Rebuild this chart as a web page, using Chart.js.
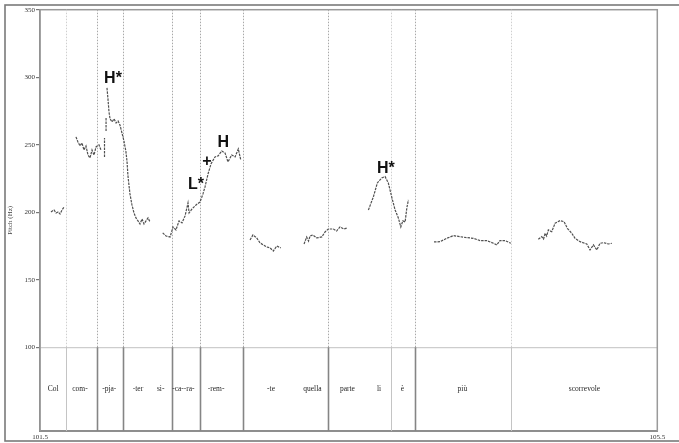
<!DOCTYPE html>
<html>
<head>
<meta charset="utf-8">
<script src="https://cdn.jsdelivr.net/npm/chart.js@4/dist/chart.umd.min.js"></script>
<style>
  html, body { margin: 0; padding: 0; background: #fff; }
  #wrap { position: relative; width: 679px; height: 443px; overflow: hidden; }
  canvas { position: absolute; left: 0; top: 0; }
</style>
</head>
<body>
<div id="wrap"><canvas id="c" width="679" height="443"></canvas></div>
<script>
// ---- data (time in s, F0 in Hz); null = break in the contour ----
const pitchTime = [
  101.571,101.591,101.604,101.617,101.630,101.643,101.656, null,
  101.733,101.746,101.759,101.772,101.785,101.798,101.811,101.824,101.837,101.850,101.863,101.882,101.895, null,
  101.918,101.918, null,
  101.928,101.928, null,
  101.934,101.941,101.947,101.954,101.967,101.980,101.993,102.006,102.018,102.031,102.044,102.057,102.064,102.070,102.077,102.083,102.096,102.109,102.122,102.135,102.148,102.161,102.174,102.187,102.200,102.213, null,
  102.295,102.317,102.343,102.362,102.381,102.401,102.420,102.440,102.459,102.466,102.485,102.511,102.537,102.556,102.569,102.589,102.608,102.634,102.654,102.678,102.699,102.718,102.742,102.764,102.785,102.801, null,
  102.861,102.880,102.904,102.926,102.969,102.991,103.012,103.034,103.060, null,
  103.211,103.228,103.240,103.250,103.267,103.293,103.326,103.347,103.368,103.401,103.422,103.444,103.470,103.492, null,
  103.628,103.660,103.686,103.714,103.736,103.757,103.779,103.801,103.822,103.838,103.851,103.866,103.877,103.887, null,
  104.053,104.092,104.136,104.179,104.222,104.265,104.308,104.352,104.395,104.438,104.460,104.481,104.514,104.551, null,
  104.729,104.751,104.763,104.773,104.783,104.794,104.816,104.838,104.870,104.896,104.917,104.946,104.967,105.000,105.043,105.064,105.086,105.108,105.129,105.151,105.183,105.205
];
const pitchHz = [
  200.2,201.7,199.5,200.2,198.7,201.7,203.9, null,
  255.8,252.1,249.1,251.3,246.1,249.1,242.4,240.2,246.1,242.4,248.4,249.9,246.1, null,
  241.0,255.0, null,
  260.2,269.9, null,
  292.1,283.2,274.3,269.1,266.9,269.1,266.1,267.6,264.7,258.7,252.8,244.7,237.3,226.9,219.5,213.6,205.4,199.5,195.8,193.6,191.3,195.0,191.3,193.6,195.8,192.8, null,
  184.7,182.4,181.7,189.1,186.9,193.6,192.1,197.3,206.9,199.5,202.4,205.4,207.6,213.6,218.7,228.4,235.8,241.0,241.7,245.4,243.9,237.3,242.4,241.0,246.9,238.7, null,
  179.5,183.2,181.0,177.3,174.3,173.6,171.3,175.0,173.6, null,
  176.5,181.7,178.7,182.4,183.2,181.0,181.7,185.4,187.6,187.6,186.1,189.1,187.6,188.4, null,
  201.7,211.3,221.7,225.4,226.4,221.7,211.3,201.7,195.8,189.1,193.6,192.8,203.2,209.1, null,
  178.0,178.2,180.7,182.7,181.9,181.2,180.7,179.0,179.0,177.0,175.8,179.0,179.0,177.0, null,
  180.0,181.9,180.2,184.4,182.4,186.9,185.6,191.9,193.8,193.0,188.1,184.4,180.7,178.2,176.5,172.1,175.8,172.1,177.0,177.5,176.5,177.0
];

// interval boundaries of the text tier (s) and whether they are word boundaries
const boundaryTimes = [101.667, 101.871, 102.040, 102.354, 102.540, 102.814, 103.363, 103.776, 103.931, 104.554];
const boundaryHeavy = [false, true, true, true, true, true, true, false, true, false];

// syllable / word labels of the tier and their time positions
const tierLabels = ['Col','com-','-pja-','-ter','si-','-ca-','-ra-','-rem-','-te','quella','parte','li','è','più','scorrevole'];
const tierTimes  = [101.586,101.759,101.949,102.135,102.282,102.394,102.466,102.641,102.997,103.265,103.492,103.697,103.848,104.237,105.028];

// ToBI tone labels
const toneLabels = ['H*','L*','+','H','H*'];
const toneTimes  = [101.973,102.511,102.582,102.688,103.741];
const toneHz     = [298.7,220.2,237.5,251.7,232.1];

// axis ticks
const yTickValues = [100,150,200,250,300,350];
const xTickValues = [101.5,105.5];
const yMin = 38, yMax = 350, xMin = 101.5, xMax = 105.5;
const tierTopHz = 100;

// build points for the library
const pts = [];
for (let i = 0; i < pitchTime.length; i++) {
  if (pitchTime[i] === null) {
    pts.push({x: pitchTime[i-1], y: null});
  } else {
    pts.push({x: pitchTime[i], y: pitchHz[i]});
  }
}

const decor = {
  id: 'decor',
  beforeDraw(chart) {
    const ctx = chart.ctx;
    ctx.save();
    ctx.fillStyle = '#fff';
    ctx.fillRect(0, 0, chart.width, chart.height);
    ctx.strokeStyle = '#7a7a7a';
    ctx.lineWidth = 1.6;
    ctx.strokeRect(5, 5, 700, 436);
    ctx.restore();
  },
  beforeDatasetsDraw(chart) {
    const ctx = chart.ctx, a = chart.chartArea;
    const xs = chart.scales.x, ys = chart.scales.y;
    const y100 = ys.getPixelForValue(tierTopHz);
    ctx.save();
    // plot frame
    ctx.strokeStyle = '#9a9a9a';
    ctx.lineWidth = 1.5;
    ctx.strokeRect(a.left, a.top, a.right - a.left, a.bottom - a.top);
    // boundaries
    boundaryTimes.forEach((t, i) => {
      const x = Math.round(xs.getPixelForValue(t)) + 0.5;
      ctx.setLineDash([1.5, 1.5]);
      ctx.strokeStyle = boundaryHeavy[i] ? '#a8a8a8' : '#cfcfcf';
      ctx.lineWidth = 1;
      ctx.beginPath(); ctx.moveTo(x, a.top); ctx.lineTo(x, y100); ctx.stroke();
      ctx.setLineDash([]);
      ctx.strokeStyle = boundaryHeavy[i] ? '#858585' : '#c4c4c4';
      ctx.lineWidth = boundaryHeavy[i] ? 1.6 : 1;
      ctx.beginPath(); ctx.moveTo(x, y100); ctx.lineTo(x, a.bottom); ctx.stroke();
    });
    // tier labels
    ctx.fillStyle = '#1e1e1e';
    ctx.font = '7.5px "Liberation Serif", serif';
    ctx.textAlign = 'center';
    ctx.textBaseline = 'middle';
    const ty = (y100 + a.bottom) / 2;
    tierLabels.forEach((s, i) => ctx.fillText(s, xs.getPixelForValue(tierTimes[i]), ty));
    ctx.restore();
  },
  afterDatasetsDraw(chart) {
    const ctx = chart.ctx;
    const xs = chart.scales.x, ys = chart.scales.y;
    ctx.save();
    ctx.fillStyle = '#111';
    ctx.font = 'bold 16px "Liberation Sans", Arial, sans-serif';
    ctx.textAlign = 'center';
    ctx.textBaseline = 'middle';
    toneLabels.forEach((s, i) => ctx.fillText(s, xs.getPixelForValue(toneTimes[i]), ys.getPixelForValue(toneHz[i])));
    ctx.restore();
  }
};

new Chart(document.getElementById('c'), {
  type: 'line',
  data: {
    datasets: [{
      data: pts,
      borderColor: '#505050',
      borderWidth: 1.2,
      borderDash: [2.5, 1],
      pointRadius: 0,
      tension: 0,
      spanGaps: false,
      fill: false
    }]
  },
  options: {
    responsive: false,
    animation: false,
    events: [],
    layout: { padding: { left: 0, right: 21.7, top: 9.7, bottom: 0 } },
    plugins: { legend: { display: false }, tooltip: { enabled: false } },
    scales: {
      x: {
        type: 'linear', min: xMin, max: xMax,
        afterBuildTicks: s => { s.ticks = xTickValues.map(v => ({value: v})); },
        afterFit: s => { s.height = 12; },
        grid: { display: false, drawTicks: false },
        border: { display: true, color: '#6e6e6e', width: 2 },
        ticks: { padding: 2, color: '#333', font: { family: 'Liberation Serif', size: 7 }, maxRotation: 0, callback: v => v.toFixed(1) }
      },
      y: {
        type: 'linear', min: yMin, max: yMax,
        afterBuildTicks: s => { s.ticks = yTickValues.map(v => ({value: v})); },
        afterFit: s => { s.width = 40; },
        grid: {
          drawOnChartArea: true,
          color: c => (c.tick && c.tick.value === tierTopHz) ? '#cdcdcd' : 'rgba(0,0,0,0)',
          lineWidth: 1.2,
          tickColor: '#777', tickLength: 4, drawTicks: true
        },
        border: { display: true, color: '#7a7a7a', width: 1.5 },
        title: { display: true, text: 'Pitch (Hz)', color: '#444', font: { family: 'Liberation Serif', size: 7 }, padding: { top: 6, bottom: 0 } },
        ticks: { padding: 1, color: '#333', font: { family: 'Liberation Serif', size: 7 } }
      }
    }
  },
  plugins: [decor]
});
</script>
</body>
</html>
